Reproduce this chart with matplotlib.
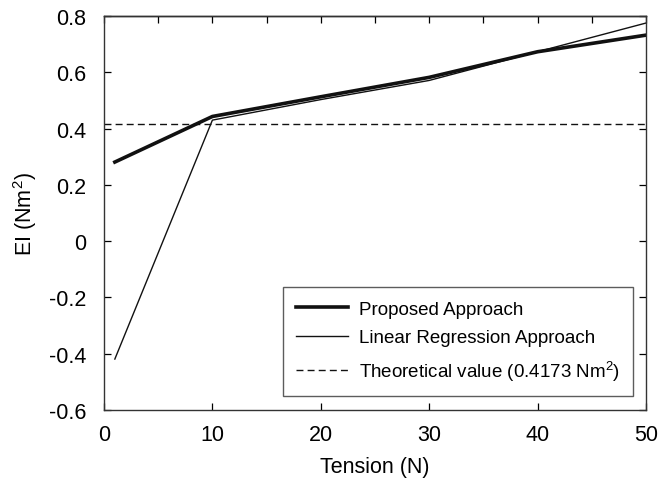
import numpy as np
import matplotlib
matplotlib.use('Agg')
from matplotlib import pyplot as plt
from matplotlib.ticker import MultipleLocator

# tension values (N) and estimated bending stiffness (Nm^2)
tension = [1, 10, 20, 30, 40, 50]
proposed = [0.281, 0.443, 0.513, 0.582, 0.673, 0.732]
linear_regression = [-0.419, 0.430, 0.503, 0.571, 0.673, 0.775]
theoretical = 0.4173

plt.rcParams['font.family'] = ['Liberation Sans', 'DejaVu Sans']
plt.rcParams['mathtext.fontset'] = 'custom'
plt.rcParams['mathtext.rm'] = 'Liberation Sans'

fig = plt.figure(figsize=(6.59, 4.81), dpi=100)
ax = fig.add_axes([104 / 659, 1 - 411 / 481, 542 / 659, 394 / 481])

ax.plot(tension, proposed, color='#111111', linewidth=2.6, label='Proposed Approach')
ax.plot(tension, linear_regression, color='#111111', linewidth=1.0, label='Linear Regression Approach')
ax.axhline(theoretical, color='#111111', linewidth=1.0, linestyle=(0, (5, 3)),
           label='Theoretical value (0.4173 Nm$^2$)')

ax.set_xlim(0, 50)
ax.set_ylim(-0.6, 0.8)
ax.xaxis.set_major_locator(MultipleLocator(10))
ax.set_yticks(np.arange(-0.6, 0.81, 0.2))
ax.set_yticklabels(['-0.6', '-0.4', '-0.2', '0', '0.2', '0.4', '0.6', '0.8'])
ax.tick_params(direction='in', length=5, width=0.9, labelsize=15.5, right=True)
ax.tick_params(axis='x', pad=10)
ax.tick_params(axis='y', pad=13)

# top axis has ticks every 5 N
top = ax.secondary_xaxis('top')
top.xaxis.set_major_locator(MultipleLocator(5))
top.tick_params(direction='in', length=5, width=0.9, labeltop=False)

for sp in ax.spines.values():
    sp.set_linewidth(1.0)
    sp.set_color('#333333')
top.spines['top'].set_linewidth(1.0)

ax.set_xlabel('Tension (N)', fontsize=15.5, labelpad=8)
ax.set_ylabel('EI (Nm$^2$)', fontsize=15.5, labelpad=7)

leg = ax.legend(loc='lower right', fontsize=13.5, frameon=True, fancybox=False,
                edgecolor='#333333', handlelength=2.8, handletextpad=0.55,
                borderpad=0.7, labelspacing=0.62, borderaxespad=0,
                bbox_to_anchor=(0.976, 0.036))
leg.get_frame().set_linewidth(1.0)

fig.savefig('out.png', dpi=100)
